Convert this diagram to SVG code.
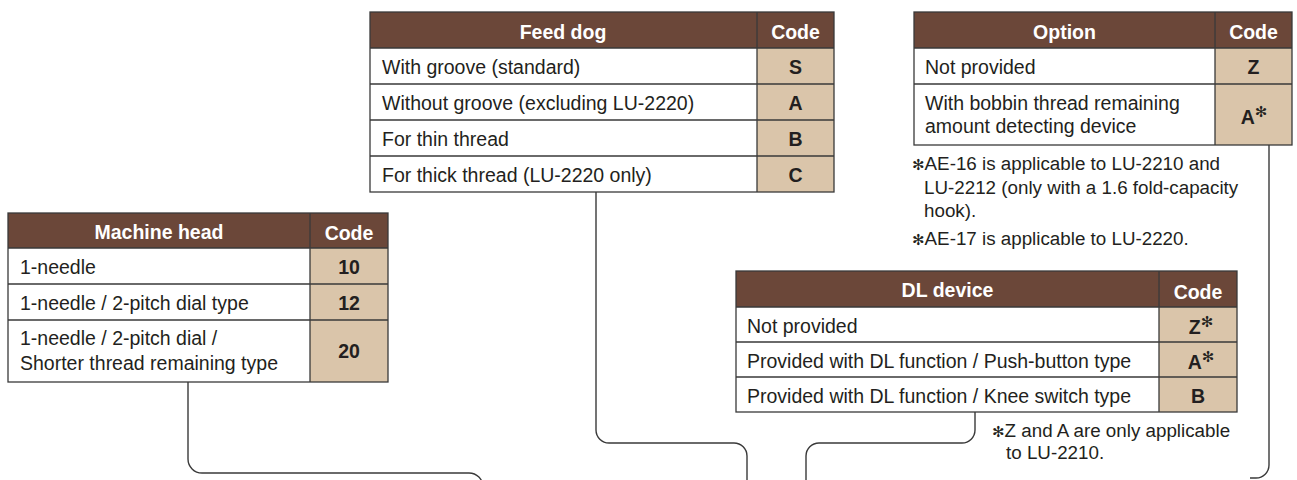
<svg xmlns="http://www.w3.org/2000/svg" width="1297" height="480" viewBox="0 0 1297 480">
<style>
.hd{fill:#6b4739}
.cd{fill:#dac5aa}
.bd{fill:#ffffff}
.ln{stroke:#3a3a3a;stroke-width:1.3;fill:none}
.ht{font-family:"Liberation Sans",Arial,sans-serif;font-size:19.5px;font-weight:bold;fill:#ffffff;text-anchor:middle}
.t{font-family:"Liberation Sans",Arial,sans-serif;font-size:19.5px;fill:#231f20}
.c{font-family:"Liberation Sans",Arial,sans-serif;font-size:19.5px;font-weight:bold;fill:#231f20;text-anchor:middle}
.fn{font-family:"Liberation Sans",Arial,sans-serif;font-size:18.8px;fill:#231f20}
.ast{font-family:"DejaVu Sans",sans-serif;font-size:15px}
.sup{font-family:"DejaVu Sans",sans-serif;font-size:15px;font-weight:normal}
.conn{stroke:#3a3a3a;stroke-width:1.4;fill:none}
</style>

<g id="connectors">
<path class="conn" d="M188,382 V459 A14,14 0 0 0 202,473 H469 A14,14 0 0 1 483,487"/>
<path class="conn" d="M596,192 V430 A13,13 0 0 0 609,443 H734 A13,13 0 0 1 747,456 V481"/>
<path class="conn" d="M975,412 V430 A13,13 0 0 1 962,443 H819 A13,13 0 0 0 806,456 V481"/>
<path class="conn" d="M1269,145 V465 A13,13 0 0 1 1256,478 H1250"/>
</g>

<g id="machine-head">
<rect class="hd" x="8" y="213" width="380" height="35"/>
<rect class="bd" x="8" y="248" width="302" height="134"/>
<rect class="cd" x="310" y="248" width="78" height="134"/>
<rect class="ln" x="8" y="213" width="380" height="169"/>
<path class="ln" d="M310,213 V382 M8,248 H388 M8,284 H388 M8,320 H388"/>
<text class="ht" x="159" y="239">Machine head</text>
<text class="ht" x="349" y="240">Code</text>
<text class="t" x="20" y="274">1-needle</text>
<text class="c" x="349" y="274">10</text>
<text class="t" x="20" y="310">1-needle / 2-pitch dial type</text>
<text class="c" x="349" y="310">12</text>
<text class="t" x="20" y="345">1-needle / 2-pitch dial /</text>
<text class="t" x="20" y="370">Shorter thread remaining type</text>
<text class="c" x="349" y="358">20</text>
</g>

<g id="feed-dog">
<rect class="hd" x="370" y="12" width="464" height="36"/>
<rect class="bd" x="370" y="48" width="387" height="144"/>
<rect class="cd" x="757" y="48" width="77" height="144"/>
<rect class="ln" x="370" y="12" width="464" height="180"/>
<path class="ln" d="M757,12 V192 M370,48 H834 M370,84 H834 M370,120 H834 M370,156 H834"/>
<text class="ht" x="563" y="39">Feed dog</text>
<text class="ht" x="795.5" y="39">Code</text>
<text class="t" x="382" y="74">With groove (standard)</text>
<text class="c" x="795.5" y="74">S</text>
<text class="t" x="382" y="110">Without groove (excluding LU-2220)</text>
<text class="c" x="795.5" y="110">A</text>
<text class="t" x="382" y="146">For thin thread</text>
<text class="c" x="795.5" y="146">B</text>
<text class="t" x="382" y="182">For thick thread (LU-2220 only)</text>
<text class="c" x="795.5" y="182">C</text>
</g>

<g id="option">
<rect class="hd" x="914" y="12" width="378" height="36"/>
<rect class="bd" x="914" y="48" width="301" height="97"/>
<rect class="cd" x="1215" y="48" width="77" height="97"/>
<rect class="ln" x="914" y="12" width="378" height="133"/>
<path class="ln" d="M1215,12 V145 M914,48 H1292 M914,84 H1292"/>
<text class="ht" x="1064.5" y="39">Option</text>
<text class="ht" x="1253.5" y="39">Code</text>
<text class="t" x="925" y="74">Not provided</text>
<text class="c" x="1253.5" y="74">Z</text>
<text class="t" x="925" y="110">With bobbin thread remaining</text>
<text class="t" x="925" y="133">amount detecting device</text>
<text class="c" x="1254" y="124">A<tspan class="sup" dy="-7">✻</tspan></text>
</g>

<g id="option-notes">
<text class="fn" x="912" y="170"><tspan class="ast">✻</tspan>AE-16 is applicable to LU-2210 and</text>
<text class="fn" x="924" y="194">LU-2212 (only with a 1.6 fold-capacity</text>
<text class="fn" x="924" y="217">hook).</text>
<text class="fn" x="912" y="245"><tspan class="ast">✻</tspan>AE-17 is applicable to LU-2220.</text>
</g>

<g id="dl-device">
<rect class="hd" x="736" y="271" width="501" height="36"/>
<rect class="bd" x="736" y="307" width="423" height="105"/>
<rect class="cd" x="1159" y="307" width="78" height="105"/>
<rect class="ln" x="736" y="271" width="501" height="141"/>
<path class="ln" d="M1159,271 V412 M736,307 H1237 M736,342 H1237 M736,377 H1237"/>
<text class="ht" x="947.5" y="297">DL device</text>
<text class="ht" x="1198" y="299">Code</text>
<text class="t" x="747" y="333">Not provided</text>
<text class="c" x="1201" y="334">Z<tspan class="sup" dy="-7">✻</tspan></text>
<text class="t" x="747" y="368">Provided with DL function / Push-button type</text>
<text class="c" x="1201" y="369">A<tspan class="sup" dy="-7">✻</tspan></text>
<text class="t" x="747" y="403">Provided with DL function / Knee switch type</text>
<text class="c" x="1198" y="403">B</text>
</g>

<g id="dl-notes">
<text class="fn" x="992" y="437"><tspan class="ast">✻</tspan>Z and A are only applicable</text>
<text class="fn" x="1006" y="459">to LU-2210.</text>
</g>
</svg>
